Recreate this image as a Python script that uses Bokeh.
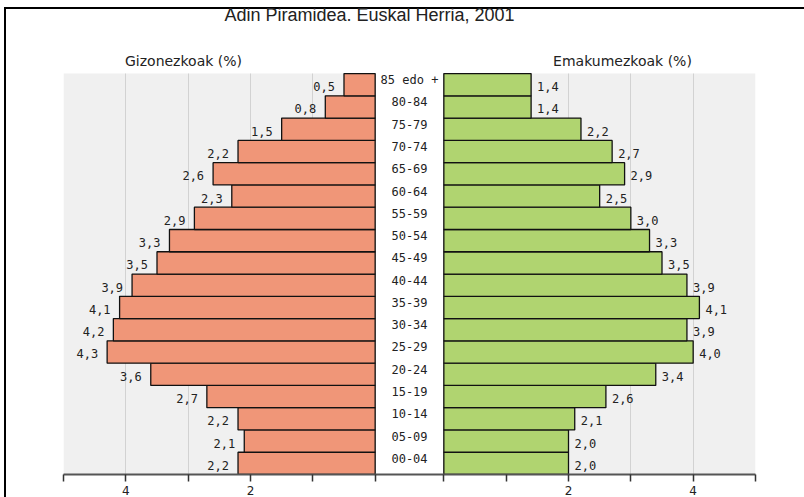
from bokeh.plotting import figure
from bokeh.models import (ColumnDataSource, Range1d, FixedTicker,
                          CustomJSTickFormatter, BoxAnnotation)
from bokeh.core.properties import value
from bokeh.embed import file_html
from bokeh.resources import INLINE

# ---------------- data ----------------
AGE_GROUPS = ["00-04", "05-09", "10-14", "15-19", "20-24", "25-29", "30-34",
              "35-39", "40-44", "45-49", "50-54", "55-59", "60-64", "65-69",
              "70-74", "75-79", "80-84", "85 edo +"]
MEN = [2.2, 2.1, 2.2, 2.7, 3.6, 4.3, 4.2, 4.1, 3.9, 3.5, 3.3, 2.9, 2.3, 2.6,
       2.2, 1.5, 0.8, 0.5]
WOMEN = [2.0, 2.0, 2.1, 2.6, 3.4, 4.0, 3.9, 4.1, 3.9, 3.5, 3.3, 3.0, 2.5, 2.9,
         2.7, 2.2, 1.4, 1.4]
AXIS_TICKS = [0, 1, 2, 3, 4, 5]
LABELED_TICKS = [2, 4]
TITLE = "Adin Piramidea. Euskal Herria, 2001"
LEFT_HEADING = "Gizonezkoak (%)"
RIGHT_HEADING = "Emakumezkoak (%)"

# ---------------- layout constants ----------------
G = 0.551          # half-width of the central label gap, in axis units
XMAX = 5
N = len(AGE_GROUPS)
Y_TOP = 20.78      # frame top (room for title and headings above the bars)
MEN_COLOR = "#F09678"
WOMEN_COLOR = "#B0D470"
TEXT_COLOR = "#222222"


def fmt(v):
    return f"{v:.1f}".replace(".", ",")


pos = list(range(N))
men_src = ColumnDataSource(dict(
    y=pos,
    left=[-(G + v) for v in MEN],
    right=[-G] * N,
    label=[fmt(v) for v in MEN],
))
women_src = ColumnDataSource(dict(
    y=pos,
    left=[G] * N,
    right=[G + v for v in WOMEN],
    label=[fmt(v) for v in WOMEN],
))
age_src = ColumnDataSource(dict(y=pos, x=[0] * N, age=AGE_GROUPS))

p = figure(width=804, height=497, output_backend="svg", toolbar_location=None,
           x_range=Range1d(-(XMAX + G), XMAX + G),
           y_range=Range1d(-0.5, Y_TOP),
           min_border_left=63, min_border_right=49, min_border_top=0,
           min_border_bottom=23)
# thin black frame lines at the top and left edge of the picture
p.styles = {"box-shadow": "inset 4px 7px 0 0 #ffffff, inset 6px 9px 0 0 #000000"}
p.background_fill_color = None
p.border_fill_color = None
p.outline_line_color = None

ticks = [-(G + t) for t in AXIS_TICKS] + [G + t for t in AXIS_TICKS]
ticker = FixedTicker(ticks=ticks)

# grey panel backgrounds
bg_left = BoxAnnotation(left=-(XMAX + G), right=-G, bottom=-0.5, top=N - 0.5,
                        fill_color="#f0f0f0", fill_alpha=1, line_color=None,
                        level="underlay")
bg_right = BoxAnnotation(left=G, right=XMAX + G, bottom=-0.5, top=N - 0.5,
                         fill_color="#f0f0f0", fill_alpha=1, line_color=None,
                         level="underlay")
p.center = [bg_left, bg_right] + list(p.center)

p.yaxis.visible = False
p.ygrid.visible = False
p.xgrid.ticker = ticker
p.xgrid.grid_line_color = "#d2d2d2"
p.xgrid.grid_line_width = 1
p.xgrid.cross_bounds = (-0.5, N - 0.5)

ax = p.xaxis[0]
ax.ticker = ticker
ax.formatter = CustomJSTickFormatter(args=dict(g=G, labeled=LABELED_TICKS), code="""
    const a = Math.abs(tick) - g;
    const v = Math.round(a);
    return (labeled.includes(v) && Math.abs(a - v) < 1e-6) ? String(v) : "";
""")
ax.axis_line_color = "#555555"
ax.axis_line_width = 2
ax.major_tick_in = 0
ax.major_tick_out = 7
ax.major_tick_line_color = "#333333"
ax.major_tick_line_width = 1.5
ax.minor_tick_line_color = None
ax.major_label_standoff = 4
ax.major_label_text_font = "DejaVu Sans"
ax.major_label_text_font_size = "12px"
ax.major_label_text_color = TEXT_COLOR

p.hbar(y="y", left="left", right="right", height=1.0, source=men_src,
       fill_color=MEN_COLOR, line_color="#111111", line_width=1.3)
p.hbar(y="y", left="left", right="right", height=1.0, source=women_src,
       fill_color=WOMEN_COLOR, line_color="#111111", line_width=1.3)

mono = value("DejaVu Sans Mono")
p.text(x="left", y="y", text="label", source=men_src, x_offset=-9, y_offset=2,
       text_align="right", text_baseline="middle", text_font=mono,
       text_font_size="12px", text_color=TEXT_COLOR)
p.text(x="right", y="y", text="label", source=women_src, x_offset=6, y_offset=2,
       text_align="left", text_baseline="middle", text_font=mono,
       text_font_size="12px", text_color=TEXT_COLOR)
p.text(x="x", y="y", text="age", source=age_src, y_offset=-5,
       text_align="center", text_baseline="middle", text_font=mono,
       text_font_size="12px", text_color=TEXT_COLOR)

# title and panel headings
p.text(x=[-0.642], y=[20.15], text=[TITLE], text_align="center",
       text_baseline="middle", text_font=value("Liberation Sans"),
       text_font_size="18px", text_color=TEXT_COLOR)
p.text(x=[-3.626, 3.417], y=[18.08, 18.08], text=[LEFT_HEADING, RIGHT_HEADING],
       text_align="center", text_baseline="middle",
       text_font=value("DejaVu Sans"), text_font_size="14px",
       text_color=TEXT_COLOR)

open("out.html", "w").write(file_html(p, INLINE))
